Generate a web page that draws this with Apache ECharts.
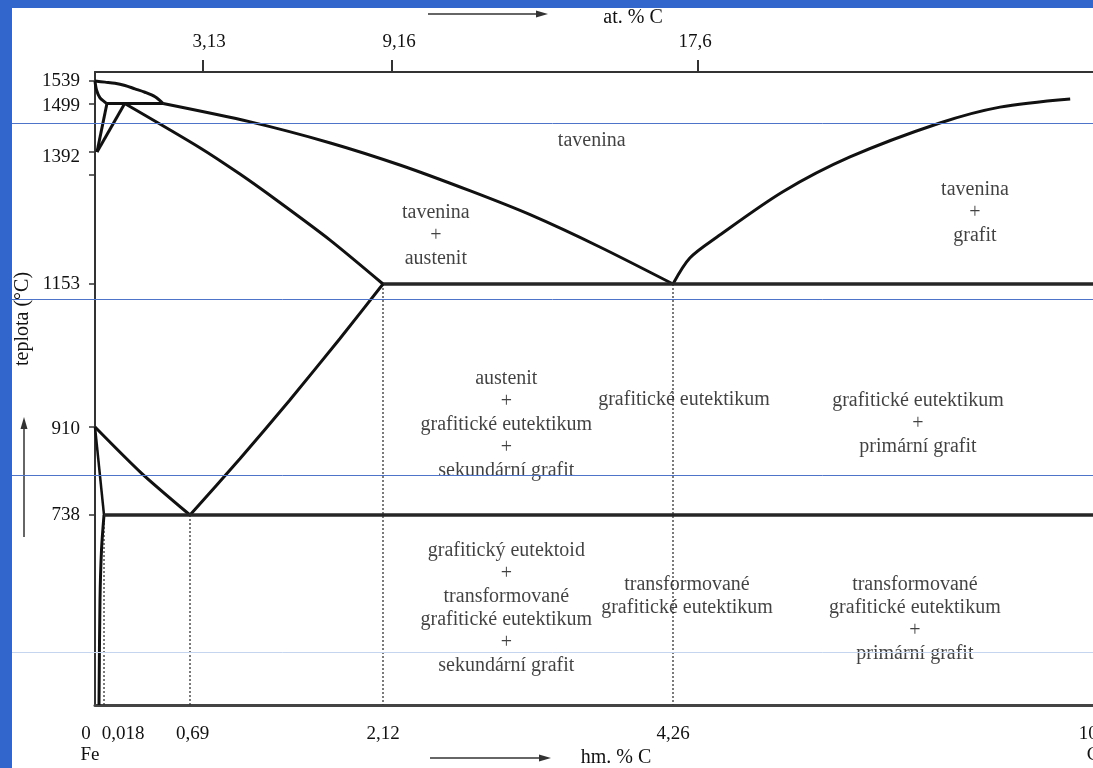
<!DOCTYPE html>
<html><head><meta charset="utf-8">
<script src="https://cdn.jsdelivr.net/npm/echarts@6/dist/echarts.min.js"></script>
<style>
html,body{margin:0;padding:0;background:#3366cc;width:1093px;height:768px;overflow:hidden}
#c{position:absolute;left:12px;top:8px;width:1081px;height:760px;background:#fff}
</style></head><body><div id="c"></div>
<script>
// ---- schematic (broken) scales of the diagram ----
const wtKnots = [0, 0.018, 0.69, 2.12, 4.26, 100];
const wtPos   = [0, 9, 95, 288, 578, 998];
const tKnots  = [375, 738, 910, 1153, 1392, 1499, 1539, 1555];
const tPos    = [0, 190, 278, 421, 553, 601.5, 624, 633];
const atKnots = [0, 3.13, 9.16, 17.6];
const atPos   = [0, 108, 297, 603];

// ---- tick labels ----
const wtTicks = [0, 0.69, 2.12, 4.26, 100];
const wtTickLabels = ['0', '0,69', '2,12', '4,26', '100'];
const wtExtraTick = [0.018];
const wtExtraLabel = ['0,018'];
const endNames = ['Fe', 'C'];
const atTicks = [3.13, 9.16, 17.6];
const atTickLabels = ['3,13', '9,16', '17,6'];
const tempTicks = [1539, 1499, 1392, 1153, 910, 738];
const tempTickMarks = [1539, 1499, 1392, 1350, 1153, 910, 738];

// ---- phase boundaries [wt.% C, °C] ----
const liqDelta   = [[0,1539],[0.026,1537],[0.104,1535],[0.182,1531],[0.260,1525],[0.338,1519],[0.417,1511],[0.48,1499]];
const solDelta   = [[0,1539],[0.003,1523],[0.010,1509],[0.022,1502],[0.041,1499]];
const peritectic = [[0.041,1499],[0.48,1499]];
const deltaHN    = [[0.041,1499],[0.004,1392]];
const deltaNJ    = [[0.004,1392],[0.18,1499]];
const solidusJE  = [[0.18,1499],[0.76,1402],[1.06,1352],[1.33,1305],[1.73,1232],[2.12,1153]];
const liquidusBC = [[0.48,1499],[1.13,1459],[1.73,1412],[2.25,1368],[2.77,1321],[3.21,1278],[3.72,1220],[4.26,1153]];
const liquidusCD = [[4.26,1153],[8.1,1200],[14.3,1238],[29.3,1320],[44.6,1383],[65.1,1456],[78.8,1491],[94.8,1507]];
const eutectic   = [[2.12,1153],[100,1153]];
const lineGS     = [[0,910],[0.31,820],[0.69,738]];
const lineSE     = [[0.69,738],[1.06,848],[1.43,956],[1.80,1060],[2.12,1153]];
const lineGP     = [[0,910],[0.018,738]];
const linePQ     = [[0.018,738],[0.013,671],[0.010,576],[0.008,375]];
const eutectoid  = [[0.018,738],[100,738]];
const dropLines  = [[[0.018,738],[0.018,375]],[[0.69,738],[0.69,375]],[[2.12,1153],[2.12,375]],[[4.26,1153],[4.26,375]]];

// ---- region labels [wt.% C, °C, text] ----
const regionLabels = [
  [3.66, 1416, 'tavenina'],
  [73.1, 1282, 'tavenina\n+\ngrafit'],
  [2.51, 1240, 'tavenina\n+\naustenit'],
  [3.03, 913, 'austenit\n+\ngrafitické eutektikum\n+\nsekundární grafit'],
  [6.77, 956, 'grafitické eutektikum'],
  [60.1, 915, 'grafitické eutektikum\n+\nprimární grafit'],
  [3.03, 560, 'grafitický eutektoid\n+\ntransformované\ngrafitické eutektikum\n+\nsekundární grafit'],
  [7.45, 583, 'transformované\ngrafitické eutektikum'],
  [59.4, 539, 'transformované\ngrafitické eutektikum\n+\nprimární grafit']
];

function interp(v, ks, ps) {
  for (let i = 0; i < ks.length - 1; i++) {
    if (v <= ks[i + 1] || i === ks.length - 2) {
      return ps[i] + (v - ks[i]) * (ps[i + 1] - ps[i]) / (ks[i + 1] - ks[i]);
    }
  }
}
const sx = v => interp(v, wtKnots, wtPos);
const sy = v => interp(v, tKnots, tPos);
const sa = v => interp(v, atKnots, atPos);
const pts = arr => arr.map(p => [sx(p[0]), sy(p[1])]);
const findIdx = (v, list, f) => list.findIndex(t => Math.abs(f(t) - v) < 0.01);

const FONT = '"Liberation Serif", "Times New Roman", serif';
const TXT = '#111';

const series = [];
function addLine(arr, smooth, width, color) {
  series.push({type: 'line', data: pts(arr), smooth: smooth, symbol: 'none', silent: true,
    lineStyle: {color: color || '#111', width: width || 3}, z: 3});
}
addLine(liqDelta, 0.3);
addLine(solDelta, 0.3);
addLine(peritectic, false);
addLine(deltaHN, false);
addLine(deltaNJ, false);
addLine(solidusJE, 0.25);
addLine(liquidusBC, 0.25);
addLine(liquidusCD, 0.3);
addLine(eutectic, false, 3.5, '#262626');
addLine(lineGS, 0.25);
addLine(lineSE, 0.2);
addLine(lineGP, false, 2.5);
addLine(linePQ, 0.3, 3);
addLine(eutectoid, false, 3.5, '#262626');
dropLines.forEach(d => series.push({type: 'line', data: pts(d), symbol: 'none', silent: true,
  lineStyle: {color: '#333', width: 1.3, type: [2, 2]}, z: 2}));

series.push({
  type: 'scatter', symbolSize: 1, itemStyle: {color: 'rgba(0,0,0,0)'}, silent: true, z: 5,
  data: regionLabels.map(r => ({value: [sx(r[0]), sy(r[1])], name: r[2]})),
  label: {show: true, position: 'inside', formatter: '{b}', fontFamily: FONT, fontSize: 20,
    lineHeight: 23, color: TXT, align: 'center', verticalAlign: 'middle'}
});

const tickFont = {fontFamily: FONT, fontSize: 19, color: TXT, lineHeight: 21};
const yTickFont = {fontFamily: FONT, fontSize: 19, color: TXT, lineHeight: 17};

const option = {
  animation: false,
  backgroundColor: '#fff',
  grid: {left: 83, top: 64, right: 0, bottom: 63, containLabel: false, outerBoundsMode: 'none'},
  xAxis: [{
    type: 'value', min: 0, max: 998, position: 'bottom',
    axisLine: {show: true, onZero: false, lineStyle: {color: '#444', width: 3}},
    axisTick: {show: false}, splitLine: {show: false},
    axisLabel: {
      customValues: wtTicks.map(sx), margin: 19, ...tickFont,
      showMinLabel: true, showMaxLabel: true, hideOverlap: false,
      formatter: v => {
        const i = findIdx(v, wtTicks, sx);
        const L = wtTickLabels[i];
        if (i === 0) return '{l|' + L + '}\n{f|' + endNames[0] + '}';
        if (i === wtTicks.length - 1) return '{n|' + L + '}\n{n|' + endNames[1] + '}';
        if (L === '0,69') return '{s|' + L + '}';
        return '{n|' + L + '}';
      },
      rich: {
        n: {...tickFont},
        s: {...tickFont, padding: [0, 0, 0, 5]},
        l: {...tickFont, padding: [0, 18, 0, 0]},
        f: {...tickFont, padding: [0, 10, 0, 0]}
      }
    },
    name: 'hm. % C', nameLocation: 'middle', nameGap: 43, nameMoveOverlap: false,
    nameTextStyle: {fontFamily: FONT, fontSize: 20, color: TXT, padding: [0, 0, 0, 44]}
  }, {
    type: 'value', min: 0, max: 998, position: 'top',
    axisLine: {show: true, onZero: false, lineStyle: {color: '#333', width: 2}},
    axisTick: {show: true, customValues: atTicks.map(sa), length: 12, lineStyle: {color: '#333', width: 2}},
    splitLine: {show: false},
    axisLabel: {
      customValues: atTicks.map(sa), margin: 19, ...tickFont, hideOverlap: false,
      showMinLabel: true, showMaxLabel: true,
      formatter: v => {
        const i = findIdx(v, atTicks, sa);
        return '{a' + i + '|' + atTickLabels[i] + '}';
      },
      rich: {
        a0: {...tickFont, padding: [0, 0, 0, 12]},
        a1: {...tickFont, padding: [0, 0, 0, 14]},
        a2: {...tickFont, padding: [0, 6, 0, 0]}
      }
    },
    name: 'at. % C', nameLocation: 'middle', nameGap: 44, nameMoveOverlap: false,
    nameTextStyle: {fontFamily: FONT, fontSize: 20, color: TXT, padding: [0, 0, 0, 78]}
  }, {
    // separate label row for the 0,018 tick (sits right next to 0)
    type: 'value', min: 0, max: 998, position: 'bottom',
    axisLine: {show: false}, axisTick: {show: false}, splitLine: {show: false},
    axisLabel: {
      customValues: wtExtraTick.map(sx), margin: 19, ...tickFont,
      showMinLabel: true, showMaxLabel: true,
      formatter: v => '{r|' + wtExtraLabel[findIdx(v, wtExtraTick, sx)] + '}',
      rich: {r: {...tickFont, padding: [0, 0, 0, 38]}}
    }
  }],
  yAxis: {
    type: 'value', min: 0, max: 633,
    axisLine: {show: true, onZero: false, lineStyle: {color: '#333', width: 2}},
    axisTick: {show: true, customValues: tempTickMarks.map(sy), length: 6, lineStyle: {color: '#333', width: 1.5}},
    splitLine: {show: false},
    axisLabel: {
      customValues: tempTicks.map(sy), margin: 15, ...yTickFont,
      showMinLabel: true, showMaxLabel: true, hideOverlap: false,
      formatter: v => {
        const t = tempTicks[findIdx(v, tempTicks, sy)];
        if (t === 1392) return '{d2|' + t + '}';
        if (t === 1499 || t === 910) return '{d1|' + t + '}';
        return '{n|' + t + '}';
      },
      rich: {
        n: {...yTickFont},
        d1: {...yTickFont, padding: [5, 0, 0, 0]},
        d2: {...yTickFont, padding: [10, 0, 0, 0]}
      }
    },
    name: 'teplota (°C)', nameLocation: 'middle', nameRotate: 90, nameGap: 62, nameMoveOverlap: false,
    nameTextStyle: {fontFamily: FONT, fontSize: 20, color: TXT, padding: [0, 0, 0, 139]}
  },
  graphic: [
    // axis-direction arrows
    {type: 'line', shape: {x1: 12, y1: 529, x2: 12, y2: 418}, style: {stroke: '#333', lineWidth: 1.5}},
    {type: 'polygon', shape: {points: [[12, 409], [8.5, 421], [15.5, 421]]}, style: {fill: '#333'}},
    {type: 'line', shape: {x1: 416, y1: 6, x2: 527, y2: 6}, style: {stroke: '#333', lineWidth: 1.5}},
    {type: 'polygon', shape: {points: [[536, 6], [524, 2.5], [524, 9.5]]}, style: {fill: '#333'}},
    {type: 'line', shape: {x1: 418, y1: 750, x2: 530, y2: 750}, style: {stroke: '#333', lineWidth: 1.5}},
    {type: 'polygon', shape: {points: [[539, 750], [527, 746.5], [527, 753.5]]}, style: {fill: '#333'}},
    // slide guide lines
    {type: 'line', z: 100, shape: {x1: 0, y1: 115.5, x2: 1081, y2: 115.5}, style: {stroke: '#4d74c8', lineWidth: 1}},
    {type: 'line', z: 100, shape: {x1: 0, y1: 291.5, x2: 1081, y2: 291.5}, style: {stroke: '#4d74c8', lineWidth: 1}},
    {type: 'line', z: 100, shape: {x1: 0, y1: 467.5, x2: 1081, y2: 467.5}, style: {stroke: '#4d74c8', lineWidth: 1}},
    {type: 'line', z: 100, shape: {x1: 0, y1: 644.5, x2: 1081, y2: 644.5}, style: {stroke: '#c6d5ef', lineWidth: 1}}
  ],
  series: series
};
const chart = echarts.init(document.getElementById('c'), null, {renderer: 'canvas'});
chart.setOption(option);
</script></body></html>
